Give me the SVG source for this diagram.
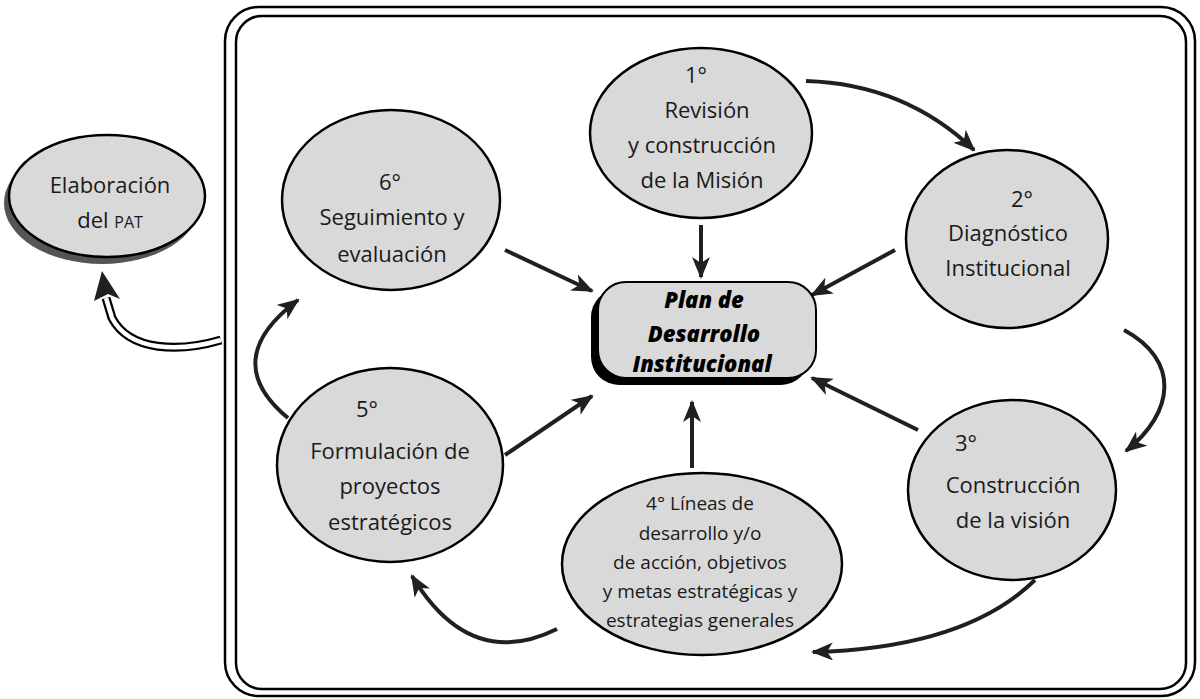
<svg xmlns="http://www.w3.org/2000/svg" width="1200" height="699" viewBox="0 0 1200 699">
<style>
.el{fill:#d9d9d9;stroke:#000;stroke-width:2.5}
.t{font-family:"Open Sans","Noto Sans",sans-serif;font-size:22px;fill:#1a1a1a;text-anchor:middle}
.t4{font-size:19px}
.tb{font-family:"Open Sans","Noto Sans",sans-serif;font-size:22px;font-weight:800;font-style:italic;fill:#000;text-anchor:middle}
.c{fill:none;stroke:#231f20;stroke-width:4}
.frame{fill:none;stroke:#000;stroke-width:2.5}
</style>
<defs>
<marker id="ah" viewBox="0 0 22 18" refX="20" refY="9" markerWidth="22" markerHeight="18" markerUnits="userSpaceOnUse" orient="auto">
<path d="M0,0 L22,9 L0,18 L6,9 z" fill="#231f20"/>
</marker>
</defs>
<rect width="1200" height="699" fill="#fff"/>
<g id="frame">
<rect class="frame" x="225" y="7" width="970" height="689" rx="34"/>
<rect class="frame" x="236" y="16" width="950" height="673" rx="26"/>
</g>
<g id="connectors">
<line class="c" x1="701" y1="225" x2="701" y2="277" marker-end="url(#ah)"/>
<line class="c" x1="505" y1="250" x2="592" y2="291" marker-end="url(#ah)"/>
<line class="c" x1="895" y1="250" x2="812" y2="295" marker-end="url(#ah)"/>
<line class="c" x1="918" y1="430" x2="812" y2="378" marker-end="url(#ah)"/>
<line class="c" x1="692" y1="468" x2="692" y2="402" marker-end="url(#ah)"/>
<line class="c" x1="505" y1="455" x2="592" y2="396" marker-end="url(#ah)"/>
<path class="c" d="M806 81 Q905 84 974 150" marker-end="url(#ah)"/>
<path class="c" d="M1124 330 C1180 360 1175 412 1126 451" marker-end="url(#ah)"/>
<path class="c" d="M1035 580 Q965 648 813 652" marker-end="url(#ah)"/>
<path class="c" d="M557 629 Q470 672 412 576" marker-end="url(#ah)"/>
<path class="c" d="M288 418 Q218 360 298 300" marker-end="url(#ah)"/>
<path d="M221 340 C180 352 130 352 112 318 L106 298" fill="none" stroke="#000" stroke-width="9"/>
<path d="M221 340 C180 352 130 352 112 318 L106 298" fill="none" stroke="#fff" stroke-width="4.5"/>
<path d="M102 271 L120 299 L108 294 L94 301 z" fill="#231f20"/>
</g>
<g id="n0">
<ellipse cx="102" cy="203" rx="98" ry="61" fill="#555"/>
<ellipse class="el" cx="107" cy="196" rx="98" ry="61"/>
<text class="t" x="110" y="193">Elaboración</text>
<text class="t" x="110" y="228">del <tspan font-size="16">PAT</tspan></text>
</g>
<g id="n1">
<ellipse class="el" cx="701" cy="133" rx="111" ry="85"/>
<text class="t" x="696" y="83">1°</text>
<text class="t" x="707" y="118">Revisión</text>
<text class="t" x="702" y="153">y construcción</text>
<text class="t" x="702" y="188">de la Misión</text>
</g>
<g id="n2">
<ellipse class="el" cx="1007" cy="239" rx="101" ry="89"/>
<text class="t" x="1022" y="207">2°</text>
<text class="t" x="1008" y="241">Diagnóstico</text>
<text class="t" x="1008" y="276">Institucional</text>
</g>
<g id="n3">
<ellipse class="el" cx="1012" cy="490" rx="104" ry="90"/>
<text class="t" x="966" y="451">3°</text>
<text class="t" x="1013" y="493">Construcción</text>
<text class="t" x="1013" y="528">de la visión</text>
</g>
<g id="n4">
<ellipse class="el" cx="702" cy="564" rx="140" ry="91"/>
<text class="t t4" x="700" y="510">4° Líneas de</text>
<text class="t t4" x="700" y="540">desarrollo y/o</text>
<text class="t t4" x="700" y="569">de acción, objetivos</text>
<text class="t t4" x="700" y="598">y metas estratégicas y</text>
<text class="t t4" x="700" y="627">estrategias generales</text>
</g>
<g id="n5">
<ellipse class="el" cx="390" cy="465" rx="113" ry="97"/>
<text class="t" x="367" y="417">5°</text>
<text class="t" x="390" y="459">Formulación de</text>
<text class="t" x="390" y="494">proyectos</text>
<text class="t" x="390" y="530">estratégicos</text>
</g>
<g id="n6">
<ellipse class="el" cx="391" cy="200" rx="109" ry="90"/>
<text class="t" x="390" y="190">6°</text>
<text class="t" x="392" y="225">Seguimiento y</text>
<text class="t" x="392" y="262">evaluación</text>
</g>
<g id="center">
<rect x="591" y="289" width="218" height="96" rx="28" fill="#000"/>
<rect x="598" y="282" width="218" height="96" rx="28" fill="#d9d9d9" stroke="#000" stroke-width="2"/>
<text class="tb" x="704" y="308">Plan de</text>
<text class="tb" x="704" y="342">Desarrollo</text>
<text class="tb" x="702" y="372">Institucional</text>
</g>
</svg>
